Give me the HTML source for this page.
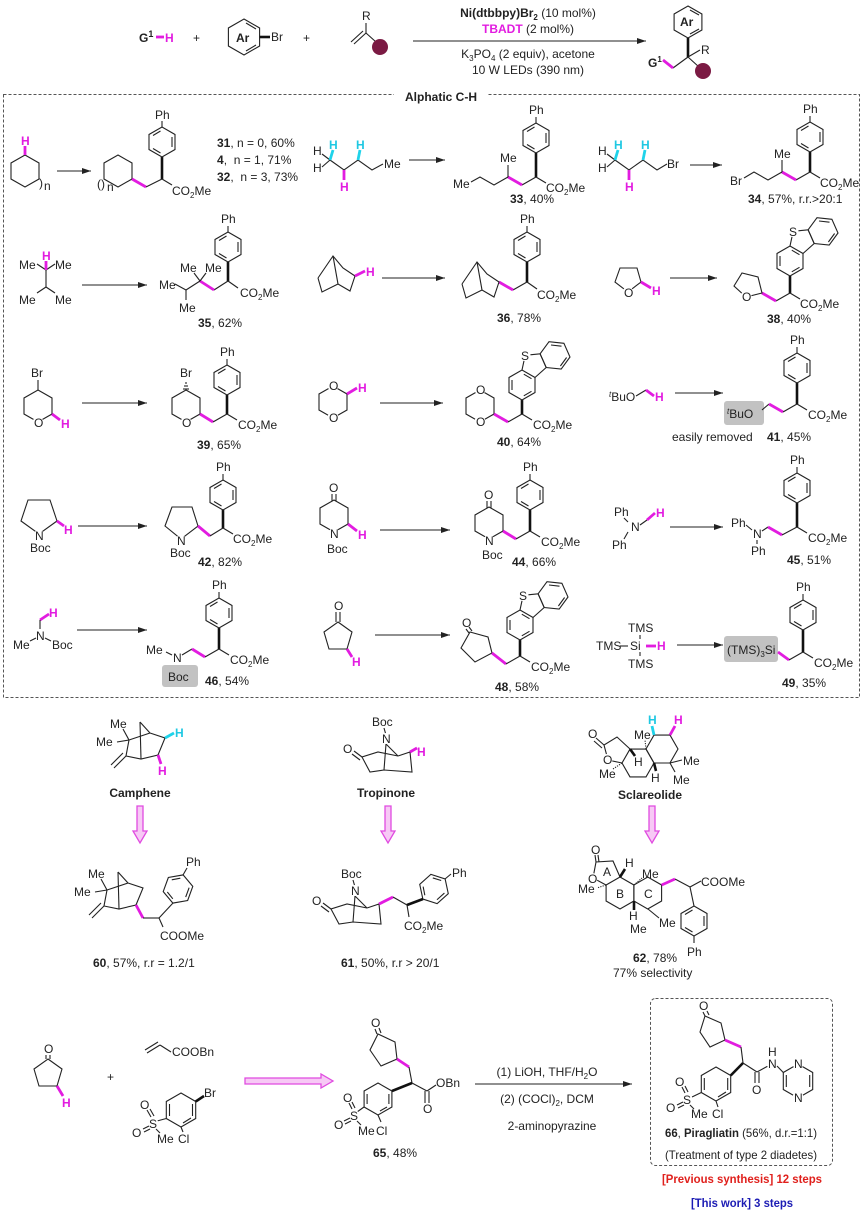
<!DOCTYPE html>
<html><head><meta charset="utf-8"><style>
html,body{margin:0;padding:0;background:#fff}
svg{display:block}
text{font-family:"Liberation Sans",Arial,sans-serif;font-size:12px;fill:#222}
.b{stroke:#222;stroke-width:1.1;fill:none}
.bb{stroke:#111;stroke-width:2.6;fill:none}
.m{stroke:#e21ce0;stroke-width:2.8;fill:none}
.c{stroke:#1fd3ea;stroke-width:2.8;fill:none}
.ar{stroke:#222;stroke-width:1.1;fill:none}
.w{fill:#fff;stroke:none}
.mt{fill:#e21ce0;font-weight:bold}
.ct{fill:#1fc8e2;font-weight:bold}
.bd{font-weight:bold}
.ho{fill:#f7c9f5;stroke:#e04be0;stroke-width:1.3}
</style></head><body>
<svg width="865" height="1213" viewBox="0 0 865 1213" xmlns="http://www.w3.org/2000/svg">
<defs>
<marker id="ah" markerWidth="10" markerHeight="8" refX="9" refY="4" orient="auto" markerUnits="userSpaceOnUse"><path d="M0,1 L9,4 L0,7 z" fill="#222"/></marker>
<g id="bz"><polygon class="b" points="0,-15 13,-7.5 13,7.5 0,15 -13,7.5 -13,-7.5"/><line class="b" x1="10" y1="-5" x2="10" y2="5"/><line class="b" x1="-1.5" y1="11" x2="-9" y2="6.5"/><line class="b" x1="-9" y1="-6.5" x2="-1.5" y2="-11"/></g>
<g id="dbt">
<polygon class="b" points="0,0 13,-7.5 13,-22.5 0,-30 -13,-22.5 -13,-7.5"/>
<line class="b" x1="-10" y1="-10" x2="-10" y2="-20"/><line class="b" x1="9.5" y1="-8.7" x2="1.8" y2="-4.2"/><line class="b" x1="1.8" y1="-25.8" x2="9.5" y2="-21.3"/>
<polyline class="b" points="0,-30 3.2,-44.7 18.1,-46.2 24.2,-32.5 13,-22.5"/>
<polygon class="b" points="24.2,-32.5 18.1,-46.2 27,-58.3 41.9,-56.7 48,-43 39.2,-30.9"/>
<line class="b" x1="29" y1="-55" x2="39.5" y2="-53.8"/><line class="b" x1="44.6" y1="-42.5" x2="38.4" y2="-34"/>
<circle class="w" cx="3" cy="-44.5" r="5.5"/>
<text x="-1" y="-40">S</text>
</g>
<g id="camph">
<polyline class="b" points="150,733 129,740 126,756 141,759 158,755 165,738 150,733"/>
<line class="b" x1="150" y1="733" x2="140" y2="722"/><line class="b" x1="140" y1="722" x2="141" y2="759"/>
<line class="b" x1="129" y1="740" x2="123" y2="729"/><line class="b" x1="129" y1="740" x2="117" y2="742"/>
<line class="b" x1="126" y1="756" x2="114" y2="768"/><line class="b" x1="123" y1="753" x2="111" y2="765"/>
<text x="110" y="728">Me</text><text x="96" y="746">Me</text>
</g>
<g id="trop">
<polyline class="b" points="398,756 378,752 362,757 370,772 384,770 412,772 410,752 398,756"/>
<line class="b" x1="386" y1="744" x2="398" y2="756"/><line class="b" x1="386" y1="744" x2="384" y2="770"/>
<line class="b" x1="362" y1="757" x2="354" y2="751"/><line class="b" x1="360" y1="760" x2="352" y2="754"/>
<line class="b" x1="386" y1="735" x2="384" y2="728"/>
<circle class="w" cx="386" cy="738.5" r="5.5"/>
<text x="382" y="743">N</text><text x="343" y="753">O</text><text x="372" y="726">Boc</text>
</g>
</defs>

<!-- ===== TOP SCHEME ===== -->
<text x="139" y="42" class="bd" font-size="13">G<tspan font-size="9" dy="-5">1</tspan></text>
<line class="m" x1="156" y1="37" x2="164" y2="37"/>
<text x="165" y="42" class="mt" font-size="13">H</text>
<text x="193" y="42" font-size="13">+</text>
<polygon class="b" points="244,19 259.6,28 259.6,46 244,55 228.4,46 228.4,28"/>
<line class="b" x1="246" y1="23" x2="256" y2="29"/><line class="b" x1="256" y1="45" x2="246" y2="51"/>
<text x="236" y="42" class="bd">Ar</text>
<line class="bb" x1="259.6" y1="37" x2="270" y2="37"/>
<text x="271" y="41">Br</text>
<text x="303" y="42" font-size="13">+</text>
<text x="362" y="20">R</text>
<line class="b" x1="366" y1="23" x2="366" y2="33"/>
<line class="b" x1="366" y1="33" x2="354" y2="44"/><line class="b" x1="363" y1="31" x2="351" y2="42"/>
<line class="b" x1="366" y1="33" x2="376" y2="42"/>
<circle cx="380" cy="47" r="8" fill="#7b1a43"/>
<line class="ar" x1="413" y1="41" x2="646" y2="41" marker-end="url(#ah)"/>
<text x="528" y="17" text-anchor="middle" font-size="11.5"><tspan class="bd">Ni(dtbbpy)Br</tspan><tspan class="bd" font-size="8" dy="3">2</tspan><tspan dy="-3"> (10 mol%)</tspan></text>
<text x="528" y="33" text-anchor="middle" font-size="11.5"><tspan class="mt">TBADT</tspan> (2 mol%)</text>
<text x="528" y="58" text-anchor="middle" font-size="11.5">K<tspan font-size="8" dy="3">3</tspan><tspan dy="-3">PO</tspan><tspan font-size="8" dy="3">4</tspan><tspan dy="-3"> (2 equiv), acetone</tspan></text>
<text x="528" y="74" text-anchor="middle" font-size="11.5">10 W LEDs (390 nm)</text>
<polygon class="b" points="688,6 701.9,14 701.9,30 688,38 674.1,30 674.1,14"/>
<line class="b" x1="690" y1="10" x2="699" y2="15"/><line class="b" x1="699" y1="29" x2="690" y2="34"/>
<text x="680" y="26" class="bd" font-size="11">Ar</text>
<line class="bb" x1="688" y1="38" x2="688" y2="57"/>
<line class="b" x1="688" y1="57" x2="700" y2="50"/><text x="701" y="54">R</text>
<line class="b" x1="688" y1="57" x2="699" y2="67"/><circle cx="703" cy="71" r="8" fill="#7b1a43"/>
<line class="b" x1="688" y1="57" x2="673" y2="68"/><line class="m" x1="673" y1="68" x2="663" y2="60"/>
<text x="648" y="67" class="bd">G<tspan font-size="8" dy="-5">1</tspan></text>

<!-- ===== DASHED BOX ===== -->
<rect x="3.5" y="94.5" width="856" height="603" fill="none" stroke="#555" stroke-width="1" stroke-dasharray="3,2"/>
<rect x="394" y="86" width="94" height="16" fill="#fff"/>
<text x="441" y="101" text-anchor="middle" class="bd" font-size="13">Alphatic C-H</text>

<!-- Row 1 -->
<polygon class="b" points="25,155 39,163 39,179 25,187 11,179 11,163"/>
<line class="m" x1="25" y1="155" x2="25" y2="146"/><text x="21" y="145" class="mt">H</text>
<text x="39" y="187" font-size="11">)</text><text x="44" y="190" font-size="8">n</text>
<line class="ar" x1="57" y1="171" x2="91" y2="171" marker-end="url(#ah)"/>
<polygon class="b" points="118,155 132,163 132,179 118,187 104,179 104,163"/>
<text x="97" y="188" font-size="11">()</text><text x="107" y="191" font-size="8">n</text>
<line class="m" x1="132" y1="179" x2="146" y2="187"/><line class="b" x1="146" y1="187" x2="162" y2="179"/>
<line class="bb" x1="162" y1="179" x2="162" y2="157"/><use href="#bz" x="162" y="142"/>
<line class="b" x1="162" y1="127" x2="162" y2="121"/><text x="155" y="119">Ph</text>
<line class="b" x1="162" y1="179" x2="172" y2="185"/>
<text x="172" y="195">CO<tspan font-size="8" dy="3">2</tspan><tspan dy="-3">Me</tspan></text>
<text x="217" y="147" font-size="11.5"><tspan class="bd">31</tspan>, n = 0, 60%</text>
<text x="217" y="164" font-size="11.5"><tspan class="bd">4</tspan>,&#160; n = 1, 71%</text>
<text x="217" y="181" font-size="11.5"><tspan class="bd">32</tspan>,&#160; n = 3, 73%</text>

<polyline class="b" points="330,160 344,170 358,160 372,170 383,164"/>
<line class="b" x1="330" y1="160" x2="322" y2="154"/><line class="b" x1="330" y1="160" x2="322" y2="167"/>
<text x="313" y="155">H</text><text x="313" y="172">H</text>
<line class="c" x1="330" y1="160" x2="333" y2="150"/><text x="329" y="149" class="ct">H</text>
<line class="m" x1="344" y1="170" x2="344" y2="180"/><text x="340" y="191" class="mt">H</text>
<line class="c" x1="358" y1="160" x2="360" y2="150"/><text x="356" y="149" class="ct">H</text>
<text x="384" y="168">Me</text>
<line class="ar" x1="409" y1="160" x2="445" y2="160" marker-end="url(#ah)"/>

<use href="#bz" x="536" y="138"/>
<line class="b" x1="536" y1="123" x2="536" y2="117"/><text x="529" y="114">Ph</text>
<line class="bb" x1="536" y1="153" x2="536" y2="177"/>
<line class="b" x1="536" y1="177" x2="546" y2="183"/><text x="546" y="192">CO<tspan font-size="8" dy="3">2</tspan><tspan dy="-3">Me</tspan></text>
<line class="b" x1="536" y1="177" x2="522" y2="185"/><line class="m" x1="522" y1="185" x2="508" y2="177"/>
<line class="b" x1="508" y1="177" x2="508" y2="165"/><text x="500" y="162">Me</text>
<polyline class="b" points="508,177 494,185 480,177 471,182"/><text x="453" y="188">Me</text>
<text x="510" y="203" font-size="11.5"><tspan class="bd">33</tspan>, 40%</text>

<polyline class="b" points="615,160 629,170 643,160 657,170 667,164"/>
<line class="b" x1="615" y1="160" x2="607" y2="154"/><line class="b" x1="615" y1="160" x2="607" y2="167"/>
<text x="598" y="155">H</text><text x="598" y="172">H</text>
<line class="c" x1="615" y1="160" x2="618" y2="150"/><text x="614" y="149" class="ct">H</text>
<line class="m" x1="629" y1="170" x2="629" y2="180"/><text x="625" y="191" class="mt">H</text>
<line class="c" x1="643" y1="160" x2="645" y2="150"/><text x="641" y="149" class="ct">H</text>
<text x="667" y="168">Br</text>
<line class="ar" x1="690" y1="165" x2="722" y2="165" marker-end="url(#ah)"/>

<use href="#bz" x="810" y="137"/>
<line class="b" x1="810" y1="122" x2="810" y2="116"/><text x="803" y="113">Ph</text>
<line class="bb" x1="810" y1="152" x2="810" y2="172"/>
<line class="b" x1="810" y1="172" x2="820" y2="178"/><text x="820" y="187">CO<tspan font-size="8" dy="3">2</tspan><tspan dy="-3">Me</tspan></text>
<line class="b" x1="810" y1="172" x2="796" y2="180"/><line class="m" x1="796" y1="180" x2="782" y2="172"/>
<line class="b" x1="782" y1="172" x2="782" y2="160"/><text x="774" y="158">Me</text>
<polyline class="b" points="782,172 768,180 754,172 744,178"/><text x="730" y="185">Br</text>
<text x="748" y="203" font-size="11.5"><tspan class="bd">34</tspan>, 57%, r.r.&gt;20:1</text>

<!-- Row 2 -->
<line class="b" x1="46" y1="270" x2="37" y2="264"/><line class="b" x1="46" y1="270" x2="55" y2="264"/>
<line class="b" x1="46" y1="270" x2="46" y2="287"/>
<line class="b" x1="46" y1="287" x2="37" y2="293"/><line class="b" x1="46" y1="287" x2="55" y2="293"/>
<line class="m" x1="46" y1="270" x2="46" y2="261"/><text x="42" y="260" class="mt">H</text>
<text x="19" y="269">Me</text><text x="55" y="269">Me</text>
<text x="19" y="304">Me</text><text x="55" y="304">Me</text>
<line class="ar" x1="82" y1="285" x2="147" y2="285" marker-end="url(#ah)"/>

<use href="#bz" x="228" y="247"/>
<line class="b" x1="228" y1="232" x2="228" y2="226"/><text x="221" y="223">Ph</text>
<line class="bb" x1="228" y1="262" x2="228" y2="281"/>
<line class="b" x1="228" y1="281" x2="238" y2="288"/><text x="240" y="297">CO<tspan font-size="8" dy="3">2</tspan><tspan dy="-3">Me</tspan></text>
<line class="b" x1="228" y1="281" x2="214" y2="290"/><line class="m" x1="214" y1="290" x2="200" y2="281"/>
<line class="b" x1="200" y1="281" x2="194" y2="273"/><line class="b" x1="200" y1="281" x2="206" y2="273"/>
<text x="180" y="272">Me</text><text x="205" y="272">Me</text>
<line class="b" x1="200" y1="281" x2="186" y2="290"/><line class="b" x1="186" y1="290" x2="175" y2="284"/>
<line class="b" x1="186" y1="290" x2="186" y2="300"/>
<text x="159" y="289">Me</text><text x="179" y="312">Me</text>
<text x="198" y="327" font-size="11.5"><tspan class="bd">35</tspan>, 62%</text>

<polyline class="b" points="318,278 322,292 338,284 350,291 355,276 343,268 333,256 318,278"/>
<line class="b" x1="333" y1="256" x2="338" y2="284"/>
<line class="m" x1="355" y1="276" x2="365" y2="271"/><text x="366" y="276" class="mt">H</text>
<line class="ar" x1="382" y1="278" x2="445" y2="278" marker-end="url(#ah)"/>

<use href="#bz" x="527" y="247"/>
<line class="b" x1="527" y1="232" x2="527" y2="226"/><text x="520" y="223">Ph</text>
<line class="bb" x1="527" y1="262" x2="527" y2="282"/>
<line class="b" x1="527" y1="282" x2="537" y2="289"/><text x="537" y="299">CO<tspan font-size="8" dy="3">2</tspan><tspan dy="-3">Me</tspan></text>
<line class="b" x1="527" y1="282" x2="513" y2="290"/><line class="m" x1="513" y1="290" x2="499" y2="282"/>
<polyline class="b" points="462,284 466,298 482,290 494,297 499,282 487,274 477,262 462,284"/>
<line class="b" x1="477" y1="262" x2="482" y2="290"/>
<text x="497" y="322" font-size="11.5"><tspan class="bd">36</tspan>, 78%</text>

<polygon class="b" points="615,282 620,268 637,268 641,282 628,292"/>
<circle class="w" cx="628" cy="292.5" r="5.5"/><text x="624" y="297">O</text>
<line class="m" x1="641" y1="282" x2="651" y2="288"/><text x="652" y="295" class="mt">H</text>
<line class="ar" x1="670" y1="278" x2="717" y2="278" marker-end="url(#ah)"/>

<use href="#dbt" x="790" y="276"/>
<line class="bb" x1="790" y1="276" x2="790" y2="293"/>
<line class="b" x1="790" y1="293" x2="800" y2="299"/><text x="800" y="308">CO<tspan font-size="8" dy="3">2</tspan><tspan dy="-3">Me</tspan></text>
<line class="b" x1="790" y1="293" x2="776" y2="301"/><line class="m" x1="776" y1="301" x2="762" y2="293"/>
<polygon class="b" points="762,293 758,277 742,273 734,286 746,297"/>
<circle class="w" cx="746" cy="296.5" r="5.5"/><text x="742" y="301">O</text>
<text x="767" y="323" font-size="11.5"><tspan class="bd">38</tspan>, 40%</text>

<!-- Row 3 -->
<text x="31" y="377">Br</text><line class="b" x1="38" y1="380" x2="38" y2="390"/>
<polygon class="b" points="38,390 52,398 52,414 38,422 24,414 24,398"/>
<circle class="w" cx="38" cy="422.5" r="5.5"/><text x="34" y="427">O</text>
<line class="m" x1="52" y1="414" x2="60" y2="420"/><text x="61" y="428" class="mt">H</text>
<line class="ar" x1="82" y1="403" x2="147" y2="403" marker-end="url(#ah)"/>

<text x="180" y="377">Br</text>
<line class="b" x1="183" y1="389" x2="189" y2="389"/><line class="b" x1="184" y1="386" x2="188" y2="386"/><line class="b" x1="185" y1="383" x2="187" y2="383"/>
<polygon class="b" points="186,390 200,398 200,414 186,422 172,414 172,398"/>
<circle class="w" cx="186" cy="422.5" r="5.5"/><text x="182" y="427">O</text>
<line class="m" x1="200" y1="414" x2="213" y2="422"/><line class="b" x1="213" y1="422" x2="227" y2="414"/>
<line class="bb" x1="227" y1="414" x2="227" y2="395"/><use href="#bz" x="227" y="380"/>
<line class="b" x1="227" y1="365" x2="227" y2="359"/><text x="220" y="356">Ph</text>
<line class="b" x1="227" y1="414" x2="237" y2="420"/><text x="238" y="429">CO<tspan font-size="8" dy="3">2</tspan><tspan dy="-3">Me</tspan></text>
<text x="197" y="449" font-size="11.5"><tspan class="bd">39</tspan>, 65%</text>

<polygon class="b" points="333,386 347,394 347,410 333,418 319,410 319,394"/>
<circle class="w" cx="333" cy="385.5" r="5.5"/><circle class="w" cx="333" cy="417.5" r="5.5"/>
<text x="329" y="390">O</text><text x="329" y="422">O</text>
<line class="m" x1="347" y1="394" x2="357" y2="388"/><text x="358" y="392" class="mt">H</text>
<line class="ar" x1="380" y1="403" x2="443" y2="403" marker-end="url(#ah)"/>

<polygon class="b" points="480,390 494,398 494,414 480,422 466,414 466,398"/>
<circle class="w" cx="480" cy="389.5" r="5.5"/><circle class="w" cx="480" cy="421.5" r="5.5"/>
<text x="476" y="394">O</text><text x="476" y="426">O</text>
<line class="m" x1="494" y1="414" x2="508" y2="422"/><line class="b" x1="508" y1="422" x2="522" y2="414"/>
<line class="bb" x1="522" y1="414" x2="522" y2="400"/><use href="#dbt" x="522" y="400"/>
<line class="b" x1="522" y1="414" x2="532" y2="420"/><text x="533" y="429">CO<tspan font-size="8" dy="3">2</tspan><tspan dy="-3">Me</tspan></text>
<text x="497" y="446" font-size="11.5"><tspan class="bd">40</tspan>, 64%</text>

<text x="609" y="401"><tspan font-size="8" font-style="italic" dy="-4">t</tspan><tspan dy="4">BuO</tspan></text>
<line class="b" x1="636" y1="396" x2="646" y2="390"/><line class="m" x1="646" y1="390" x2="654" y2="396"/>
<text x="655" y="401" class="mt">H</text>
<line class="ar" x1="675" y1="393" x2="723" y2="393" marker-end="url(#ah)"/>

<rect x="724" y="401" width="40" height="24" rx="3" fill="#c2c2c2"/>
<text x="727" y="418"><tspan font-size="8" font-style="italic" dy="-4">t</tspan><tspan dy="4">BuO</tspan></text>
<line class="b" x1="762" y1="410" x2="769" y2="404"/><line class="m" x1="769" y1="404" x2="783" y2="412"/>
<line class="b" x1="783" y1="412" x2="797" y2="404"/>
<line class="bb" x1="797" y1="404" x2="797" y2="383"/><use href="#bz" x="797" y="368"/>
<line class="b" x1="797" y1="353" x2="797" y2="347"/><text x="790" y="344">Ph</text>
<line class="b" x1="797" y1="404" x2="807" y2="410"/><text x="808" y="419">CO<tspan font-size="8" dy="3">2</tspan><tspan dy="-3">Me</tspan></text>
<text x="672" y="441" font-size="11.5">easily removed</text>
<text x="767" y="441" font-size="11.5"><tspan class="bd">41</tspan>, 45%</text>

<!-- Row 4 -->
<polygon class="b" points="28,500 50,500 57,521 39,534 21,521"/>
<circle class="w" cx="39" cy="535.5" r="5.5"/><text x="35" y="540">N</text><text x="30" y="552">Boc</text>
<line class="m" x1="57" y1="521" x2="64" y2="526"/><text x="64" y="534" class="mt">H</text>
<line class="ar" x1="78" y1="526" x2="147" y2="526" marker-end="url(#ah)"/>

<polygon class="b" points="172,507 192,507 198,526 181,539 165,526"/>
<circle class="w" cx="181" cy="540.5" r="5.5"/><text x="177" y="545">N</text><text x="170" y="557">Boc</text>
<line class="m" x1="198" y1="526" x2="210" y2="536"/><line class="b" x1="210" y1="536" x2="223" y2="528"/>
<line class="bb" x1="223" y1="528" x2="223" y2="510"/><use href="#bz" x="223" y="495"/>
<line class="b" x1="223" y1="480" x2="223" y2="474"/><text x="216" y="471">Ph</text>
<line class="b" x1="223" y1="528" x2="233" y2="534"/><text x="233" y="543">CO<tspan font-size="8" dy="3">2</tspan><tspan dy="-3">Me</tspan></text>
<text x="198" y="566" font-size="11.5"><tspan class="bd">42</tspan>, 82%</text>

<text x="329" y="492">O</text>
<line class="b" x1="332" y1="494" x2="332" y2="501"/><line class="b" x1="336" y1="494" x2="336" y2="501"/>
<polygon class="b" points="334,500 348,508 348,524 334,532 320,524 320,508"/>
<circle class="w" cx="334" cy="533.5" r="5.5"/><text x="330" y="538">N</text><text x="327" y="553">Boc</text>
<line class="m" x1="348" y1="524" x2="357" y2="531"/><text x="358" y="539" class="mt">H</text>
<line class="ar" x1="380" y1="530" x2="450" y2="530" marker-end="url(#ah)"/>

<text x="484" y="499">O</text>
<line class="b" x1="487" y1="501" x2="487" y2="508"/><line class="b" x1="491" y1="501" x2="491" y2="508"/>
<polygon class="b" points="489,507 503,515 503,531 489,539 475,531 475,515"/>
<circle class="w" cx="489" cy="540.5" r="5.5"/><text x="485" y="545">N</text><text x="482" y="559">Boc</text>
<line class="m" x1="503" y1="531" x2="516" y2="539"/><line class="b" x1="516" y1="539" x2="530" y2="531"/>
<line class="bb" x1="530" y1="531" x2="530" y2="510"/><use href="#bz" x="530" y="495"/>
<line class="b" x1="530" y1="480" x2="530" y2="474"/><text x="523" y="471">Ph</text>
<line class="b" x1="530" y1="531" x2="540" y2="537"/><text x="541" y="546">CO<tspan font-size="8" dy="3">2</tspan><tspan dy="-3">Me</tspan></text>
<text x="512" y="566" font-size="11.5"><tspan class="bd">44</tspan>, 66%</text>

<text x="614" y="516">Ph</text><text x="631" y="531">N</text><text x="612" y="549">Ph</text>
<line class="b" x1="628" y1="522" x2="624" y2="518"/><line class="b" x1="628" y1="532" x2="624" y2="539"/>
<line class="b" x1="640" y1="525" x2="647" y2="520"/><line class="m" x1="647" y1="520" x2="655" y2="513"/>
<text x="656" y="517" class="mt">H</text>
<line class="ar" x1="670" y1="527" x2="723" y2="527" marker-end="url(#ah)"/>

<text x="731" y="527">Ph</text><text x="753" y="538">N</text><text x="751" y="555">Ph</text>
<line class="b" x1="746" y1="525" x2="752" y2="530"/><line class="b" x1="757" y1="540" x2="757" y2="544"/>
<line class="b" x1="762" y1="531" x2="768" y2="527"/><line class="m" x1="768" y1="527" x2="782" y2="535"/>
<line class="b" x1="782" y1="535" x2="797" y2="527"/>
<line class="bb" x1="797" y1="527" x2="797" y2="503"/><use href="#bz" x="797" y="488"/>
<line class="b" x1="797" y1="473" x2="797" y2="467"/><text x="790" y="464">Ph</text>
<line class="b" x1="797" y1="527" x2="807" y2="533"/><text x="808" y="542">CO<tspan font-size="8" dy="3">2</tspan><tspan dy="-3">Me</tspan></text>
<text x="787" y="564" font-size="11.5"><tspan class="bd">45</tspan>, 51%</text>

<!-- Row 5 -->
<line class="m" x1="40" y1="620" x2="49" y2="614"/><text x="49" y="617" class="mt">H</text>
<line class="b" x1="40" y1="620" x2="40" y2="629"/>
<text x="36" y="640">N</text><text x="13" y="649">Me</text><text x="52" y="649">Boc</text>
<line class="b" x1="36" y1="638" x2="30" y2="641"/><line class="b" x1="45" y1="638" x2="51" y2="641"/>
<line class="ar" x1="77" y1="630" x2="147" y2="630" marker-end="url(#ah)"/>

<text x="146" y="654">Me</text><text x="173" y="662">N</text>
<line class="b" x1="166" y1="652" x2="172" y2="655"/>
<rect x="162" y="665" width="36" height="22" rx="3" fill="#c2c2c2"/><text x="168" y="681">Boc</text>
<line class="b" x1="182" y1="655" x2="192" y2="649"/><line class="m" x1="192" y1="649" x2="205" y2="657"/>
<line class="b" x1="205" y1="657" x2="219" y2="649"/>
<line class="bb" x1="219" y1="649" x2="219" y2="628"/><use href="#bz" x="219" y="613"/>
<line class="b" x1="219" y1="598" x2="219" y2="592"/><text x="212" y="589">Ph</text>
<line class="b" x1="219" y1="649" x2="229" y2="655"/><text x="230" y="664">CO<tspan font-size="8" dy="3">2</tspan><tspan dy="-3">Me</tspan></text>
<text x="205" y="685" font-size="11.5"><tspan class="bd">46</tspan>, 54%</text>

<text x="334" y="610">O</text>
<line class="b" x1="336" y1="612" x2="336" y2="622"/><line class="b" x1="340" y1="612" x2="340" y2="622"/>
<polygon class="b" points="338,622 352,632 347,649 329,649 324,632"/>
<line class="m" x1="347" y1="649" x2="352" y2="657"/><text x="352" y="666" class="mt">H</text>
<line class="ar" x1="375" y1="635" x2="450" y2="635" marker-end="url(#ah)"/>

<text x="462" y="627">O</text>
<line class="b" x1="466" y1="629" x2="469" y2="633"/><line class="b" x1="469" y1="627" x2="472" y2="631"/>
<polygon class="b" points="470,632 488,637 492,653 475,662 461,648"/>
<line class="m" x1="492" y1="653" x2="506" y2="664"/><line class="b" x1="506" y1="664" x2="520" y2="656"/>
<line class="bb" x1="520" y1="656" x2="520" y2="640"/><use href="#dbt" x="520" y="640"/>
<line class="b" x1="520" y1="656" x2="530" y2="662"/><text x="531" y="671">CO<tspan font-size="8" dy="3">2</tspan><tspan dy="-3">Me</tspan></text>
<text x="495" y="691" font-size="11.5"><tspan class="bd">48</tspan>, 58%</text>

<text x="628" y="632">TMS</text><text x="596" y="650">TMS</text>
<line class="b" x1="620" y1="646" x2="628" y2="646"/><text x="630" y="650">Si</text>
<line class="b" x1="640" y1="635" x2="640" y2="639"/><line class="b" x1="640" y1="652" x2="640" y2="656"/>
<line class="m" x1="646" y1="646" x2="656" y2="646"/><text x="657" y="650" class="mt">H</text>
<text x="628" y="668">TMS</text>
<line class="ar" x1="677" y1="645" x2="723" y2="645" marker-end="url(#ah)"/>

<rect x="724" y="636" width="54" height="26" rx="3" fill="#c2c2c2"/>
<text x="727" y="654">(TMS)<tspan font-size="8" dy="3">3</tspan><tspan dy="-3">Si</tspan></text>
<line class="m" x1="778" y1="652" x2="789" y2="660"/><line class="b" x1="789" y1="660" x2="803" y2="652"/>
<line class="bb" x1="803" y1="652" x2="803" y2="630"/><use href="#bz" x="803" y="615"/>
<line class="b" x1="803" y1="600" x2="803" y2="594"/><text x="796" y="591">Ph</text>
<line class="b" x1="803" y1="652" x2="813" y2="658"/><text x="814" y="667">CO<tspan font-size="8" dy="3">2</tspan><tspan dy="-3">Me</tspan></text>
<text x="782" y="687" font-size="11.5"><tspan class="bd">49</tspan>, 35%</text>

<!-- ===== NATURAL PRODUCTS ===== -->
<use href="#camph"/>
<line class="c" x1="165" y1="738" x2="174" y2="733"/><text x="175" y="737" class="ct">H</text>
<line class="m" x1="158" y1="755" x2="161" y2="764"/><text x="158" y="775" class="mt">H</text>
<text x="140" y="797" text-anchor="middle" class="bd" font-size="12.5">Camphene</text>
<polygon class="ho" points="137,806 143,806 143,831 147,831 140,843 133,831 137,831"/>

<use href="#camph" transform="translate(-22,150)"/>
<line class="m" x1="136" y1="905" x2="143" y2="918"/>
<line class="b" x1="143" y1="918" x2="159" y2="918"/>
<use href="#bz" transform="translate(178,889) rotate(20)"/>
<line class="b" x1="159" y1="918" x2="173" y2="903"/>
<line class="b" x1="183" y1="875" x2="187" y2="868"/><text x="186" y="866">Ph</text>
<line class="b" x1="159" y1="918" x2="163" y2="927"/><text x="160" y="940">COOMe</text>
<text x="93" y="967" font-size="11.5"><tspan class="bd">60</tspan>, 57%, r.r = 1.2/1</text>

<use href="#trop"/>
<line class="m" x1="410" y1="752" x2="417" y2="748"/><text x="417" y="756" class="mt">H</text>
<text x="386" y="797" text-anchor="middle" class="bd" font-size="12.5">Tropinone</text>
<polygon class="ho" points="385,806 391,806 391,831 395,831 388,843 381,831 385,831"/>

<use href="#trop" transform="translate(-31,152)"/>
<line class="m" x1="379" y1="904" x2="393" y2="897"/>
<line class="b" x1="393" y1="897" x2="407" y2="905"/>
<use href="#bz" transform="translate(434,889) rotate(48)"/>
<line class="bb" x1="407" y1="905" x2="423" y2="899"/>
<line class="b" x1="445" y1="879" x2="451" y2="874"/><text x="452" y="877">Ph</text>
<line class="b" x1="407" y1="905" x2="409" y2="917"/><text x="404" y="930">CO<tspan font-size="8" dy="3">2</tspan><tspan dy="-3">Me</tspan></text>
<text x="341" y="967" font-size="11.5"><tspan class="bd">61</tspan>, 50%, r.r &gt; 20/1</text>

<!-- Sclareolide -->
<polygon class="b" points="654,763 646,776.9 630,776.9 622,763 630,749.1 646,749.1"/>
<polygon class="b" points="678,749 670,762.9 654,763 646,749 654,735.1 670,735.1"/>
<polyline class="b" points="630,749 617,737 604,745 608,760 622,763"/>
<line class="b" x1="604" y1="745" x2="596" y2="738"/><line class="b" x1="602" y1="748" x2="594" y2="741"/>
<text x="588" y="738">O</text>
<circle class="w" cx="607" cy="759.5" r="5.5"/><text x="603" y="764">O</text>
<line class="b" x1="622" y1="763" x2="613" y2="769" stroke-dasharray="1.2,1.2"/><text x="599" y="778">Me</text>
<line class="bb" x1="630" y1="749" x2="635" y2="756"/><text x="634" y="766">H</text>
<line class="b" x1="646" y1="749" x2="645" y2="740" stroke-dasharray="1.2,1.2"/><text x="634" y="739">Me</text>
<line class="c" x1="654" y1="735" x2="652" y2="726"/><text x="648" y="724" class="ct">H</text>
<line class="m" x1="670" y1="735" x2="675" y2="726"/><text x="674" y="724" class="mt">H</text>
<line class="b" x1="670" y1="763" x2="682" y2="760"/><text x="683" y="765">Me</text>
<line class="b" x1="670" y1="763" x2="675" y2="772"/><text x="673" y="784">Me</text>
<line class="bb" x1="654" y1="763" x2="656" y2="771"/><text x="651" y="782">H</text>
<text x="650" y="799" text-anchor="middle" class="bd" font-size="12.5">Sclareolide</text>
<polygon class="ho" points="649,806 655,806 655,831 659,831 652,843 645,831 649,831"/>

<!-- 62 -->
<polygon class="b" points="620,877 633.9,885 633.9,901 620,909 606.1,901 606.1,885"/>
<polygon class="b" points="647.7,877 661.6,885 661.6,901 647.7,909 633.9,901 633.9,885"/>
<polyline class="b" points="620,877 613,861 596,862 593,878 606,885"/>
<line class="b" x1="596" y1="862" x2="595" y2="855"/><line class="b" x1="599" y1="862" x2="598" y2="855"/>
<text x="591" y="854">O</text>
<circle class="w" cx="592" cy="878.5" r="5.5"/><text x="588" y="883">O</text>
<text x="603" y="876" font-size="11">A</text><text x="616" y="898" font-size="11">B</text><text x="644" y="898" font-size="11">C</text>
<line class="bb" x1="620" y1="877" x2="625" y2="869"/><text x="625" y="867">H</text>
<line class="b" x1="634" y1="885" x2="642" y2="878" stroke-dasharray="1.2,1.2"/><text x="642" y="878">Me</text>
<line class="b" x1="606" y1="885" x2="597" y2="888" stroke-dasharray="1.2,1.2"/><text x="578" y="893">Me</text>
<line class="m" x1="661.6" y1="885" x2="675" y2="879"/><line class="b" x1="675" y1="879" x2="690" y2="887"/>
<line class="b" x1="690" y1="887" x2="701" y2="881"/><text x="701" y="886">COOMe</text>
<line class="b" x1="690" y1="887" x2="694" y2="906"/><use href="#bz" x="694" y="921"/>
<line class="b" x1="694" y1="936" x2="694" y2="943"/><text x="687" y="956">Ph</text>
<line class="bb" x1="634" y1="901" x2="634" y2="910"/><text x="629" y="920">H</text><text x="630" y="933">Me</text>
<line class="b" x1="648" y1="909" x2="659" y2="918"/><text x="659" y="927">Me</text>
<text x="633" y="962" font-size="11.5"><tspan class="bd">62</tspan>, 78%</text>
<text x="613" y="977" font-size="11.5">77% selectivity</text>

<!-- ===== BOTTOM SYNTHESIS ===== -->
<text x="44" y="1053">O</text>
<line class="b" x1="46" y1="1055" x2="46" y2="1059"/><line class="b" x1="50" y1="1055" x2="50" y2="1059"/>
<polygon class="b" points="48,1059 62,1069 57,1086 39,1086 34,1069"/>
<line class="m" x1="57" y1="1086" x2="63" y2="1096"/><text x="62" y="1107" class="mt">H</text>
<text x="107" y="1081">+</text>
<line class="b" x1="147" y1="1053" x2="160" y2="1045"/><line class="b" x1="145" y1="1050" x2="158" y2="1042"/>
<line class="b" x1="160" y1="1045" x2="171" y2="1052"/><text x="172" y="1056">COOBn</text>
<polygon class="b" points="181,1093 195.7,1101.5 195.7,1118.5 181,1127 166.3,1118.5 166.3,1101.5"/>
<line class="b" x1="192.5" y1="1104" x2="192.5" y2="1116"/><line class="b" x1="169.5" y1="1104" x2="169.5" y2="1116"/><line class="b" x1="183" y1="1123" x2="191" y2="1118"/>
<line class="bb" x1="195.7" y1="1101.5" x2="204" y2="1096"/><text x="204" y="1097">Br</text>
<line class="b" x1="166.3" y1="1118.5" x2="157" y2="1121"/>
<circle class="w" cx="153" cy="1123.5" r="5.5"/><text x="149" y="1128">S</text>
<line class="b" x1="151" y1="1117" x2="147" y2="1110"/><line class="b" x1="154" y1="1116" x2="150" y2="1109"/><text x="140" y="1109">O</text>
<line class="b" x1="149" y1="1126" x2="143" y2="1129"/><line class="b" x1="150" y1="1129" x2="144" y2="1132"/><text x="132" y="1137">O</text>
<line class="b" x1="156" y1="1129" x2="160" y2="1133"/><text x="157" y="1143">Me</text>
<line class="b" x1="181" y1="1127" x2="183" y2="1132"/><text x="178" y="1143">Cl</text>
<polygon class="ho" points="245,1078 321,1078 321,1074 333,1081 321,1088 321,1084 245,1084"/>

<!-- 65 -->
<text x="371" y="1027">O</text>
<line class="b" x1="375" y1="1029" x2="377" y2="1034"/><line class="b" x1="379" y1="1028" x2="381" y2="1033"/>
<polygon class="b" points="378,1034 395,1042 397,1059 381,1066 370,1050"/>
<line class="m" x1="397" y1="1059" x2="409" y2="1067"/><line class="b" x1="409" y1="1067" x2="412" y2="1083"/>
<polygon class="b" points="378,1083 391.9,1091 391.9,1107 378,1115 364.1,1107 364.1,1091"/>
<line class="b" x1="388.9" y1="1094" x2="388.9" y2="1104"/><line class="b" x1="367.1" y1="1094" x2="367.1" y2="1104"/><line class="b" x1="380" y1="1111" x2="387" y2="1107"/>
<line class="bb" x1="412" y1="1083" x2="392" y2="1091"/>
<line class="b" x1="412" y1="1083" x2="427" y2="1091"/>
<line class="b" x1="425" y1="1091" x2="425" y2="1103"/><line class="b" x1="429" y1="1091" x2="429" y2="1103"/><text x="423" y="1113">O</text>
<line class="b" x1="427" y1="1091" x2="436" y2="1085"/><text x="436" y="1087">OBn</text>
<line class="b" x1="364" y1="1107" x2="357" y2="1112"/>
<circle class="w" cx="354" cy="1115.5" r="5.5"/><text x="350" y="1120">S</text>
<line class="b" x1="352" y1="1109" x2="349" y2="1103"/><line class="b" x1="355" y1="1108" x2="352" y2="1102"/><text x="343" y="1102">O</text>
<line class="b" x1="350" y1="1118" x2="344" y2="1121"/><line class="b" x1="351" y1="1121" x2="345" y2="1124"/><text x="334" y="1129">O</text>
<line class="b" x1="357" y1="1121" x2="361" y2="1125"/><text x="358" y="1135">Me</text>
<line class="b" x1="378" y1="1115" x2="381" y2="1122"/><text x="376" y="1135">Cl</text>
<text x="373" y="1157" font-size="11.5"><tspan class="bd">65</tspan>, 48%</text>

<line class="ar" x1="475" y1="1084" x2="632" y2="1084" marker-end="url(#ah)"/>
<text x="547" y="1076" text-anchor="middle" font-size="11.5">(1) LiOH, THF/H<tspan font-size="8" dy="3">2</tspan><tspan dy="-3">O</tspan></text>
<text x="547" y="1103" text-anchor="middle" font-size="11.5">(2) (COCl)<tspan font-size="8" dy="3">2</tspan><tspan dy="-3">, DCM</tspan></text>
<text x="552" y="1130" text-anchor="middle" font-size="11.5">2-aminopyrazine</text>

<!-- 66 box -->
<rect x="650.5" y="998.5" width="182" height="167" rx="5" fill="none" stroke="#555" stroke-width="1" stroke-dasharray="3,2"/>
<text x="699" y="1010">O</text>
<line class="b" x1="703" y1="1012" x2="705" y2="1016"/><line class="b" x1="707" y1="1011" x2="709" y2="1015"/>
<polygon class="b" points="705,1016 721,1023 725,1040 710,1047 700,1032"/>
<line class="m" x1="725" y1="1040" x2="741" y2="1047"/><line class="b" x1="741" y1="1047" x2="743" y2="1063"/>
<polygon class="b" points="716,1067 730.7,1075.5 730.7,1092.5 716,1101 701.3,1092.5 701.3,1075.5"/>
<line class="b" x1="727.7" y1="1078" x2="727.7" y2="1090"/><line class="b" x1="704.3" y1="1078" x2="704.3" y2="1090"/><line class="b" x1="718" y1="1097" x2="726" y2="1092"/>
<line class="bb" x1="743" y1="1063" x2="730.7" y2="1075.5"/>
<line class="b" x1="743" y1="1063" x2="757" y2="1072"/>
<line class="b" x1="755" y1="1072" x2="755" y2="1083"/><line class="b" x1="759" y1="1072" x2="759" y2="1083"/><text x="752" y="1094">O</text>
<line class="b" x1="757" y1="1072" x2="768" y2="1066"/>
<text x="768" y="1056">H</text>
<circle class="w" cx="772" cy="1063.5" r="5.5"/><text x="768" y="1068">N</text>
<line class="b" x1="777" y1="1066" x2="783.3" y2="1072.5"/>
<polygon class="b" points="798,1064 812.7,1072.5 812.7,1089.5 798,1098 783.3,1089.5 783.3,1072.5"/>
<line class="b" x1="809.7" y1="1075" x2="809.7" y2="1087"/><line class="b" x1="786.3" y1="1075" x2="786.3" y2="1087"/>
<circle class="w" cx="798" cy="1063.5" r="5.5"/><circle class="w" cx="798" cy="1097.5" r="5.5"/>
<text x="794" y="1068">N</text><text x="794" y="1102">N</text>
<line class="b" x1="701.3" y1="1092.5" x2="692" y2="1097"/>
<circle class="w" cx="687" cy="1099.5" r="5.5"/><text x="683" y="1104">S</text>
<line class="b" x1="685" y1="1093" x2="682" y2="1087"/><line class="b" x1="688" y1="1092" x2="685" y2="1086"/><text x="675" y="1086">O</text>
<line class="b" x1="683" y1="1102" x2="677" y2="1105"/><line class="b" x1="684" y1="1105" x2="678" y2="1108"/><text x="666" y="1112">O</text>
<line class="b" x1="690" y1="1105" x2="694" y2="1109"/><text x="691" y="1118">Me</text>
<line class="b" x1="716" y1="1101" x2="718" y2="1107"/><text x="712" y="1118">Cl</text>
<text x="741" y="1137" text-anchor="middle" font-size="11.5" textLength="152" lengthAdjust="spacingAndGlyphs"><tspan class="bd">66</tspan>, <tspan class="bd">Piragliatin</tspan> (56%, d.r.=1:1)</text>
<text x="741" y="1159" text-anchor="middle" font-size="11.5" textLength="152" lengthAdjust="spacingAndGlyphs">(Treatment of type 2 diadetes)</text>
<text x="742" y="1183" text-anchor="middle" font-size="12" font-weight="bold" style="fill:#e0201c" textLength="160" lengthAdjust="spacingAndGlyphs">[Previous synthesis] 12 steps</text>
<text x="742" y="1207" text-anchor="middle" font-size="12" font-weight="bold" style="fill:#1c1cb4" textLength="102" lengthAdjust="spacingAndGlyphs">[This work] 3 steps</text>
</svg>
</body></html>
